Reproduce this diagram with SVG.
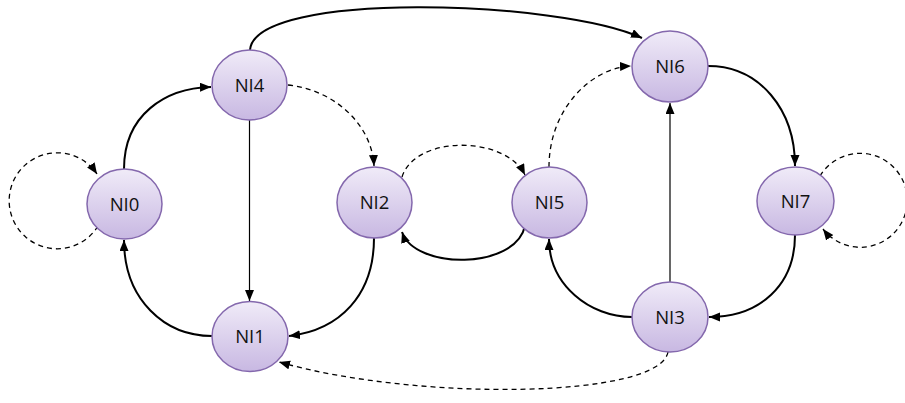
<svg xmlns="http://www.w3.org/2000/svg" width="905" height="403" viewBox="0 0 905 403">
<defs>
<linearGradient id="g" x1="0" y1="0" x2="0" y2="1">
<stop offset="0" stop-color="#f0ebf8"/>
<stop offset="1" stop-color="#c8b8e2"/>
</linearGradient>
<marker id="a" markerUnits="userSpaceOnUse" markerWidth="12" markerHeight="10" refX="11" refY="4.5" orient="auto" viewBox="0 0 12 10">
<path d="M0,0 L11,4.5 L0,9 z" fill="#000"/>
</marker>
<style>
.n ellipse{fill:url(#g);stroke:#8468ad;stroke-width:1.5}
.n text{font-family:"Open Sans",Lato,sans-serif;font-size:18.5px;fill:#111;text-anchor:middle}
.e path{fill:none;stroke:#000;marker-end:url(#a)}
.s{stroke-width:2}
.t{stroke-width:1.2}
.d{stroke-width:1.3;stroke-dasharray:5 4}
</style>
</defs>
<rect width="905" height="403" fill="#fff"/>
<g id="edges" class="e">
<path class="s" d="M124,169 C124,115 165,88 211,87"/>
<path class="t" d="M249.5,120 L249.5,301"/>
<path class="s" d="M212,336 C165,336 124,300 124,240"/>
<path class="d" d="M288,85 C335,90 372,125 374,166"/>
<path class="s" d="M374,238 C374,295 340,330 289,336"/>
<path class="d" d="M402,177 C415,135 505,135 525,175"/>
<path class="s" d="M525,226 C515,270 415,270 402,232"/>
<path class="s" d="M250,50 C255,-10 560,0 642,38"/>
<path class="d" d="M549,167 C549,110 590,68 631,66"/>
<path class="s" d="M708,66 C760,66 795,110 795,166"/>
<path class="s" d="M795,235 C795,285 760,317 709,317"/>
<path class="s" d="M632,317 C590,317 549,285 549,239"/>
<path class="t" d="M670,282 L670,103"/>
<path class="d" d="M668,352 C660,398 420,402 279,362"/>
<path class="d" d="M98,226 A48,48 0 1 1 97,174"/>
<path class="d" d="M820,176 A47,47 0 1 1 823,229"/>
</g>
<g id="NI0" class="n"><ellipse cx="124.5" cy="204" rx="37.5" ry="35"/><text x="124.5" y="210.5">NI0</text></g>
<g id="NI1" class="n"><ellipse cx="250" cy="336.5" rx="38" ry="35"/><text x="250" y="343">NI1</text></g>
<g id="NI2" class="n"><ellipse cx="374.5" cy="202.5" rx="37.5" ry="35.5"/><text x="374.5" y="209">NI2</text></g>
<g id="NI3" class="n"><ellipse cx="670" cy="317" rx="38" ry="35"/><text x="670" y="323.5">NI3</text></g>
<g id="NI4" class="n"><ellipse cx="249.5" cy="85" rx="37.5" ry="35"/><text x="249.5" y="91.5">NI4</text></g>
<g id="NI5" class="n"><ellipse cx="549.5" cy="202.5" rx="37.5" ry="35.5"/><text x="549.5" y="209">NI5</text></g>
<g id="NI6" class="n"><ellipse cx="670" cy="66.5" rx="38" ry="35.5"/><text x="670" y="73">NI6</text></g>
<g id="NI7" class="n"><ellipse cx="795.5" cy="201" rx="38.5" ry="34"/><text x="795.5" y="207.5">NI7</text></g>
</svg>
